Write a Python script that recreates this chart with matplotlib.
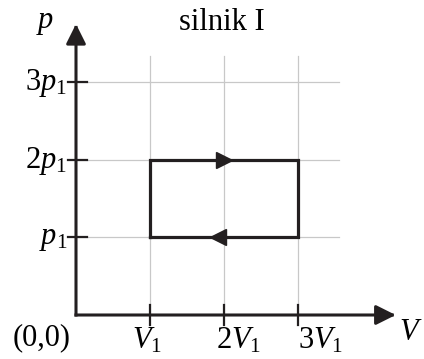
import numpy as np
import matplotlib
matplotlib.use("Agg")
from matplotlib import pyplot as plt
from matplotlib.patches import FancyArrowPatch

plt.rcParams['font.family'] = ['Liberation Serif', 'DejaVu Serif']
plt.rcParams['mathtext.fontset'] = 'custom'
plt.rcParams['mathtext.rm'] = 'Liberation Serif'
plt.rcParams['mathtext.it'] = 'Liberation Serif:italic'

# cycle in units of V1 and p1
cycle_V = [1, 1, 3, 3, 1]
cycle_p = [1, 2, 2, 1, 1]
ticks_V = [1, 2, 3]
ticks_p = [1, 2, 3]
labels_V = [r'$V_1$', r'$2V_1$', r'$3V_1$']
labels_p = [r'$p_1$', r'$2p_1$', r'$3p_1$']
title = 'silnik I'

DARK = '#231f20'
GRID = '#c8c8c8'
FS = 22

fig = plt.figure(figsize=(4.24, 3.59), dpi=100)
ax = fig.add_axes([0, 0, 1, 1])
ax.set_xlim(-76 / 74, (424 - 76) / 74)
ax.set_ylim(-44 / 77.7, 315 / 77.7)
ax.axis('off')

# grid
for v in ticks_V:
    ax.plot([v, v], [0, 3.33], color=GRID, lw=0.9, zorder=1)
for p in ticks_p:
    ax.plot([0, 3.55], [p, p], color=GRID, lw=0.9, zorder=1)

# axes with arrows
for end in [(4.32, 0), (0, 3.745)]:
    arr = FancyArrowPatch((0, 0), end, arrowstyle='-|>,head_length=0.6,head_width=0.3',
                          mutation_scale=20, color=DARK, lw=2.2, shrinkA=0, shrinkB=0,
                          capstyle='projecting', zorder=3)
    ax.add_patch(arr)

# ticks
for v in ticks_V:
    ax.plot([v, v], [-0.129, 0.129], color=DARK, lw=1.6, zorder=3)
for p in ticks_p:
    ax.plot([-0.108, 0.149], [p, p], color=DARK, lw=1.6, zorder=3)

# cycle rectangle
ax.plot(cycle_V, cycle_p, color=DARK, lw=2.3, solid_joinstyle='miter', zorder=4)
ax.plot([2.0], [cycle_p[1]], marker='>', ms=11, color=DARK, mec=DARK, zorder=5)
ax.plot([1.92], [cycle_p[0]], marker='<', ms=11, color=DARK, mec=DARK, zorder=5)

# tick labels
offsets_V = [-0.04, 0.2, 0.3]
for v, lab, dx in zip(ticks_V, labels_V, offsets_V):
    ax.text(v + dx, -0.33, lab, fontsize=FS, ha='center', va='center')
for p, lab in zip(ticks_p, labels_p):
    ax.text(-0.12, p - 0.02, lab, fontsize=FS, ha='right', va='center')

ax.text(-0.46, -0.29, '(0,0)', fontsize=FS, ha='center', va='center')
ax.text(4.52, -0.23, r'$V$', fontsize=FS, ha='center', va='center')
ax.text(-0.42, 3.76, r'$p$', fontsize=FS, ha='center', va='center')
ax.text(1.97, 3.76, title, fontsize=FS, ha='center', va='center')

plt.savefig('out.png', dpi=100)
